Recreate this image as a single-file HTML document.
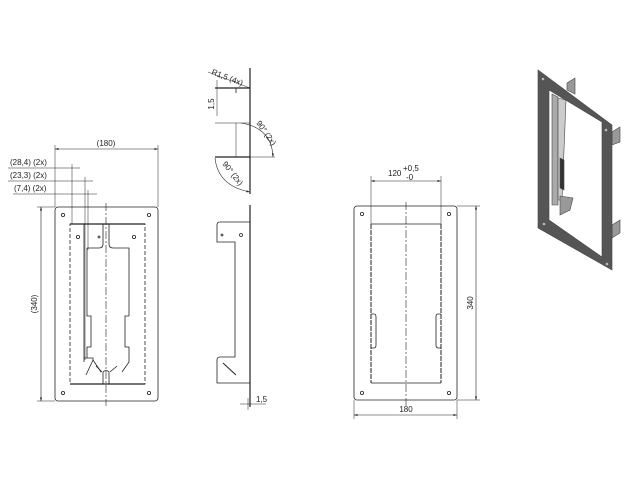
<!DOCTYPE html>
<html><head><meta charset="utf-8"><style>
html,body{margin:0;padding:0;background:#fff;}
svg{display:block;}
text{font-family:"Liberation Sans",sans-serif;font-size:8px;fill:#222;}
</style></head><body>
<svg width="640" height="480" viewBox="0 0 640 480" xmlns="http://www.w3.org/2000/svg">
<defs>
<marker id="a" viewBox="0 0 10 10" refX="10" refY="5" markerWidth="6" markerHeight="6" orient="auto-start-reverse"><path d="M0 2 L10 5 L0 8z" fill="#222"/></marker>
</defs>
<g stroke="#222" fill="none" stroke-width="0.8">
<!-- LEFT VIEW -->
<rect x="55" y="207" width="103" height="194" rx="3"/>
<circle cx="63" cy="215" r="1.6"/><circle cx="149" cy="215" r="1.6"/>
<circle cx="63" cy="393" r="1.6"/><circle cx="149" cy="393" r="1.6"/>
<rect x="70" y="224" width="75" height="160" stroke-dasharray="4 2"/>
<line x1="70" y1="224" x2="145" y2="224" stroke-width="1.2"/>
<line x1="70" y1="384" x2="145" y2="384" stroke-width="1.2"/>
<line x1="106" y1="203" x2="106" y2="406" stroke-dasharray="8 2 2 2" stroke-width="0.6"/>
<circle cx="78" cy="237" r="1.6"/><circle cx="99" cy="237" r="1"/><circle cx="134" cy="237" r="1.6"/>
<path d="M84 224 V358 M84 358 H93 V360 M87 248 H99 Q103 248 103 244 V224 M109 224 V244 Q109 248 113 248 H129 V316 M129 316 H125 V347 H129 V362 L122 372 M93 360 L86 375 M103 384 V372 Q106 369 109 372 V384 M84 358 V362 M93 360 L101 372"/>
<path d="M87 248 V316 H91 V347 H87 V358" />
<path d="M102 372 L96 366 M110 372 L117 366"/>
<!-- left dims -->
<line x1="55" y1="149" x2="158" y2="149" marker-start="url(#a)" marker-end="url(#a)" stroke-width="0.6"/>
<line x1="55" y1="145" x2="55" y2="207" stroke-width="0.5"/>
<line x1="158" y1="145" x2="158" y2="207" stroke-width="0.5"/>
<line x1="8" y1="168" x2="80" y2="168" stroke-width="0.5"/>
<line x1="72" y1="164" x2="72" y2="224" stroke-width="0.5"/>
<line x1="8" y1="181" x2="93" y2="181" stroke-width="0.5"/>
<line x1="85" y1="177" x2="85" y2="360" stroke-width="0.5"/>
<line x1="13" y1="194" x2="97" y2="194" stroke-width="0.5"/>
<line x1="88" y1="190" x2="88" y2="250" stroke-width="0.5"/>
<line x1="41" y1="207" x2="41" y2="401" marker-start="url(#a)" marker-end="url(#a)" stroke-width="0.6"/>
<line x1="37" y1="207" x2="55" y2="207" stroke-width="0.5"/>
<line x1="37" y1="401" x2="55" y2="401" stroke-width="0.5"/>
<!-- MIDDLE -->
<line x1="250" y1="68" x2="250" y2="194" stroke-width="1.2"/>
<line x1="215" y1="88" x2="250" y2="88" stroke-width="1.2"/>
<line x1="236" y1="88" x2="236" y2="93" />
<line x1="208" y1="72" x2="250" y2="88" stroke-width="0.5"/>
<line x1="217" y1="80" x2="217" y2="116" stroke-width="0.5"/>
<line x1="215" y1="123" x2="250" y2="123" stroke-width="0.5"/>
<line x1="236" y1="123" x2="236" y2="157" stroke-width="0.5"/>
<line x1="215" y1="157" x2="250" y2="157" stroke-width="1.2"/>
<line x1="250" y1="157" x2="275" y2="157" stroke-width="0.5"/>
<path d="M241 123 Q272 128 273 157" stroke-width="0.6" marker-end="url(#a)"/>
<path d="M215 158 Q218 186 250 192" stroke-width="0.6" marker-end="url(#a)"/>
<line x1="250" y1="205" x2="250" y2="407" stroke-width="1.2"/>
<path d="M250 222 H220 Q217 222 217 225 V242 H235 V357 H220 Q217 357 217 360 V383 H250"/>
<path d="M223 363 L236 375" stroke-width="1"/>
<circle cx="222" cy="235" r="1"/><circle cx="241" cy="235" r="1.5"/>
<line x1="240" y1="404" x2="266" y2="404" stroke-width="0.5"/>
<line x1="248" y1="398" x2="248" y2="410" stroke-width="0.5"/>
<!-- RIGHT VIEW -->
<rect x="354" y="206" width="103" height="194" rx="3"/>
<circle cx="362" cy="214" r="1.6"/><circle cx="449" cy="214" r="1.6"/>
<circle cx="362" cy="393" r="1.6"/><circle cx="449" cy="393" r="1.6"/>
<line x1="371" y1="224" x2="441" y2="224"/><line x1="371" y1="383" x2="441" y2="383"/>
<line x1="371" y1="224" x2="371" y2="383" stroke-dasharray="5 1" stroke-width="1"/>
<line x1="441" y1="224" x2="441" y2="383" stroke-dasharray="5 1" stroke-width="1"/>
<path d="M371 314 H374 Q376 314 376 317 V345 Q376 348 374 348 H371"/>
<path d="M441 314 H438 Q436 314 436 317 V345 Q436 348 438 348 H441"/>
<line x1="406" y1="202" x2="406" y2="408" stroke-dasharray="8 2 2 2" stroke-width="0.6"/>
<line x1="371" y1="181" x2="441" y2="181" marker-start="url(#a)" marker-end="url(#a)" stroke-width="0.6"/>
<line x1="371" y1="176" x2="371" y2="224" stroke-width="0.5"/>
<line x1="441" y1="176" x2="441" y2="224" stroke-width="0.5"/>
<line x1="476" y1="206" x2="476" y2="400" marker-start="url(#a)" marker-end="url(#a)" stroke-width="0.6"/>
<line x1="457" y1="206" x2="480" y2="206" stroke-width="0.5"/>
<line x1="457" y1="400" x2="480" y2="400" stroke-width="0.5"/>
<line x1="354" y1="415" x2="457" y2="415" marker-start="url(#a)" marker-end="url(#a)" stroke-width="0.6"/>
<line x1="354" y1="400" x2="354" y2="419" stroke-width="0.5"/>
<line x1="457" y1="400" x2="457" y2="419" stroke-width="0.5"/>
</g>
<!-- 3D -->
<g stroke="#444" stroke-width="0.6">
<polygon points="567,83 575,78 575,94 567,90" fill="#999"/>
<polygon points="612,132 620,127 620,142 612,145" fill="#999"/>
<polygon points="612,225 620,220 620,233 612,238" fill="#999"/>
<polygon points="552,94 558,97 558,205 552,205" fill="#aaa"/>
<polygon points="558,98 566,100 562,200 558,200" fill="#ccc"/>
<polygon points="560,196 573,198 570,210 560,215" fill="#999"/>
<path fill="#555" fill-rule="evenodd" d="M538 70 L612 125 L612 270 L538 228 Z M549 90 L549 220 L602 257 L602 122 Z"/>
<polygon points="560,158 564,160 564,190 560,188" fill="#333"/>
</g>
<g fill="#bbb"><circle cx="543" cy="79" r="1.3"/><circle cx="606" cy="130" r="1.3"/><circle cx="544" cy="224" r="1.3"/><circle cx="607" cy="264" r="1.3"/></g>
<!-- texts -->
<text x="106" y="146" text-anchor="middle">(180)</text>
<text x="10" y="165">(28,4) (2x)</text>
<text x="10" y="178">(23,3) (2x)</text>
<text x="14" y="191">(7,4) (2x)</text>
<text transform="translate(37,304) rotate(-90)" text-anchor="middle">(340)</text>
<text transform="translate(211,74) rotate(21)">R1,5 (4x)</text>
<text transform="translate(214,104) rotate(-90)" text-anchor="middle">1,5</text>
<text transform="translate(256,123) rotate(55)">90° (2x)</text>
<text transform="translate(222,164) rotate(52)">90° (2x)</text>
<text x="256" y="402">1,5</text>
<text x="388" y="176">120</text>
<text x="403" y="171" font-size="7">+0,5</text>
<text x="406" y="180" font-size="7">-0</text>
<text transform="translate(473,303) rotate(-90)" text-anchor="middle">340</text>
<text x="406" y="412" text-anchor="middle">180</text>
</svg>
</body></html>
